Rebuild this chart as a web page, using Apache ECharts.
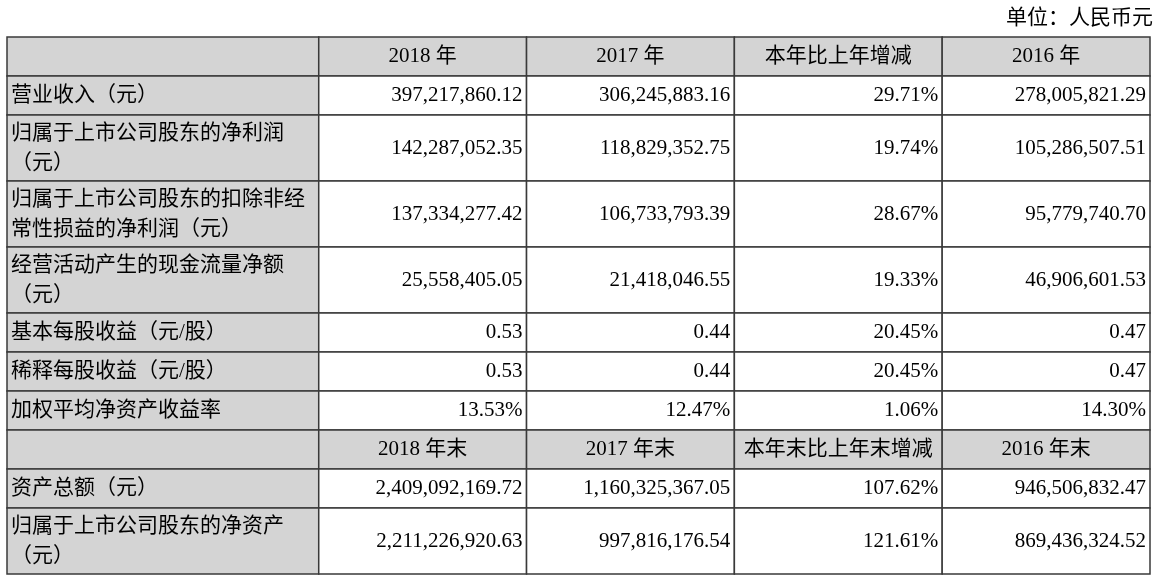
<!DOCTYPE html>
<html>
<head>
<meta charset="utf-8">
<script src="https://cdn.jsdelivr.net/npm/echarts@6/dist/echarts.min.js"></script>
<style>
  html, body { margin: 0; padding: 0; background: #fff; }
  #main { width: 1158px; height: 584px; }
</style>
</head>
<body>
<div id="main"></div>
<script>
  // 表头
  var headers1 = ['', '2018 年', '2017 年', '本年比上年增减', '2016 年'];
  var headers2 = ['', '2018 年末', '2017 年末', '本年末比上年末增减', '2016 年末'];

  // 利润类指标
  var labels1 = [
    '营业收入（元）',
    '归属于上市公司股东的净利润\n（元）',
    '归属于上市公司股东的扣除非经\n常性损益的净利润（元）',
    '经营活动产生的现金流量净额\n（元）',
    '基本每股收益（元/股）',
    '稀释每股收益（元/股）',
    '加权平均净资产收益率'
  ];
  var units1 = ['yuan', 'yuan', 'yuan', 'yuan', 'eps', 'eps', 'pct'];
  var val2018 = [397217860.12, 142287052.35, 137334277.42, 25558405.05, 0.53, 0.53, 13.53];
  var val2017 = [306245883.16, 118829352.75, 106733793.39, 21418046.55, 0.44, 0.44, 12.47];
  var change1 = [29.71, 19.74, 28.67, 19.33, 20.45, 20.45, 1.06];
  var val2016 = [278005821.29, 105286507.51, 95779740.70, 46906601.53, 0.47, 0.47, 14.30];

  // 资产类指标
  var labels2 = ['资产总额（元）', '归属于上市公司股东的净资产\n（元）'];
  var end2018 = [2409092169.72, 2211226920.63];
  var end2017 = [1160325367.05, 997816176.54];
  var change2 = [107.62, 121.61];
  var end2016 = [946506832.47, 869436324.52];

  function money(n) {
    var s = n.toFixed(2).split('.');
    return s[0].replace(/\B(?=(\d{3})+(?!\d))/g, ',') + '.' + s[1];
  }
  function pct(n) { return n.toFixed(2) + '%'; }
  function fmt(n, unit) { return unit == 'pct' ? pct(n) : money(n); }

  // 组装表格行
  var rows = [];
  rows.push({ head: true, cells: headers1 });
  for (var i = 0; i < labels1.length; i++) {
    rows.push({ head: false, cells: [
      labels1[i], fmt(val2018[i], units1[i]), fmt(val2017[i], units1[i]),
      pct(change1[i]), fmt(val2016[i], units1[i])
    ]});
  }
  rows.push({ head: true, cells: headers2 });
  for (var j = 0; j < labels2.length; j++) {
    rows.push({ head: false, cells: [
      labels2[j], money(end2018[j]), money(end2017[j]), pct(change2[j]), money(end2016[j])
    ]});
  }

  // 布局：列边界(首列宽1.5)、行高(两行文字的行更高)
  var colEdges = [0, 1.5, 2.5, 3.5, 4.5, 5.5];
  var rowEdges = [0];
  rows.forEach(function (r) {
    var h = r.cells[0].indexOf('\n') >= 0 ? 66 : 39;
    rowEdges.push(rowEdges[rowEdges.length - 1] + h);
  });
  var total = rowEdges[rowEdges.length - 1];

  var cells = [];
  rows.forEach(function (r, ri) {
    for (var c = 0; c < 5; c++) cells.push([c, ri]);
  });

  var font = '"Liberation Serif", "Noto Sans CJK SC", serif';

  var chart = echarts.init(document.getElementById('main'));
  chart.setOption({
    animation: false,
    title: {
      text: '单位：人民币元',
      right: 0,
      top: 3,
      textStyle: { fontSize: 21, fontWeight: 'normal', color: '#000', fontFamily: font }
    },
    grid: { left: 7, right: 8, top: 37, bottom: 584 - 37 - total },
    xAxis: { type: 'value', min: 0, max: 5.5, show: false },
    yAxis: { type: 'value', min: 0, max: total, inverse: true, show: false },
    series: [{
      type: 'custom',
      data: cells,
      clip: false,
      renderItem: function (params, api) {
        var c = api.value(0), ri = api.value(1);
        var row = rows[ri];
        var p0 = api.coord([colEdges[c], rowEdges[ri]]);
        var p1 = api.coord([colEdges[c + 1], rowEdges[ri + 1]]);
        var gray = row.head || c == 0;
        var tx, align;
        if (row.head && c > 0) { tx = (p0[0] + p1[0]) / 2; align = 'center'; }
        else if (c == 0) { tx = p0[0] + 4; align = 'left'; }
        else { tx = p1[0] - 4; align = 'right'; }
        return {
          type: 'group',
          children: [{
            type: 'rect',
            shape: { x: p0[0], y: p0[1], width: p1[0] - p0[0], height: p1[1] - p0[1] },
            style: { fill: gray ? '#d4d4d4' : '#fff', stroke: '#3a3a3a', lineWidth: 1.5 }
          }, {
            type: 'text',
            style: {
              text: row.cells[c],
              x: tx,
              y: (p0[1] + p1[1]) / 2,
              align: align,
              verticalAlign: 'middle',
              fontSize: 21,
              lineHeight: 30,
              fontFamily: font,
              fill: '#000'
            }
          }]
        };
      }
    }]
  });
</script>
</body>
</html>
